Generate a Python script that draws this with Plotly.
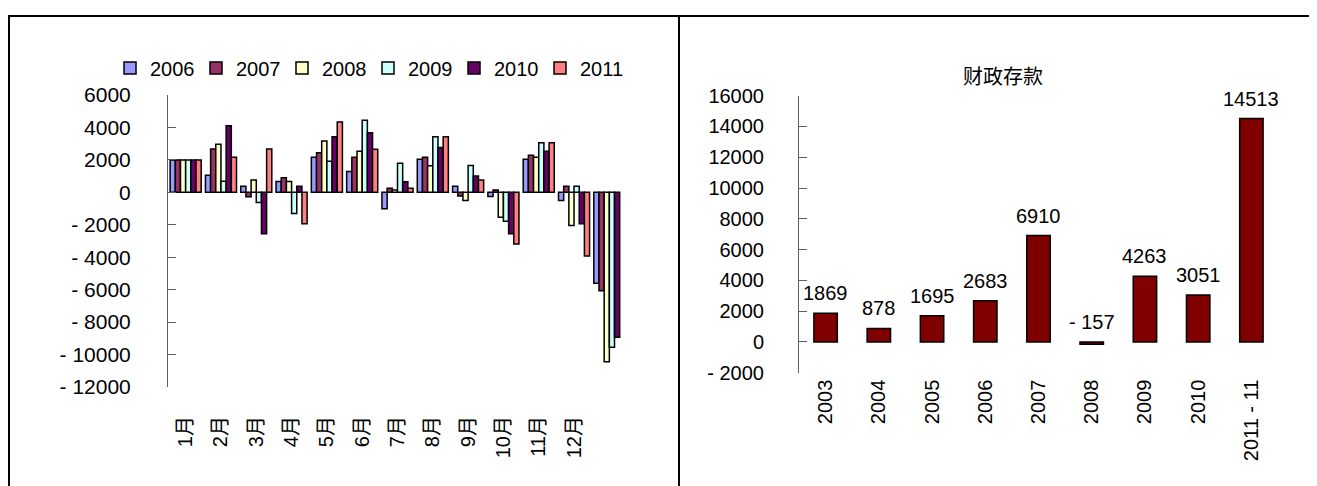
import plotly.graph_objects as go

# the page places the figure 8px from the window's top-left corner
OFF = 8
W, H = 1317 - OFF, 486 - OFF

# ---------------- data ----------------
month_labels = ["1月", "2月", "3月", "4月", "5月", "6月", "7月", "8月", "9月", "10月", "11月", "12月", ""]
years = ["2006", "2007", "2008", "2009", "2010", "2011"]
v2006 = [2000, 1050, 380, 670, 2160, 1280, -1010, 2040, 380, -250, 2040, -500, -5600]
v2007 = [2000, 2670, -270, 900, 2440, 2160, 250, 2160, -230, 150, 2290, 380, -6070]
v2008 = [2000, 2960, 760, 670, 3170, 2540, 150, 1640, -500, -1530, 2160, -2040, -10450]
v2009 = [2000, 690, -630, -1300, 1910, 4450, 1790, 3420, 1660, -1790, 3050, 380, -9550]
v2010 = [2000, 4100, -2560, 380, 3420, 3680, 650, 2770, 1010, -2560, 2540, -1930, -8930]
v2011 = [2000, 2160, 2670, -1930, 4330, 2650, 250, 3420, 760, -3190, 3050, -3930, None]
series = [v2006, v2007, v2008, v2009, v2010, v2011]
colors = ["#9999FF", "#993366", "#FFFFCC", "#CCFFFF", "#660066", "#FF8080"]

dep_years = ["2003", "2004", "2005", "2006", "2007", "2008", "2009", "2010", "2011 - 11"]
dep_values = [1869, 878, 1695, 2683, 6910, -157, 4263, 3051, 14513]
dep_title = "财政存款"

FONT = "Liberation Sans, Arial, Noto Sans CJK SC, sans-serif"

def px_x(p):
    return (p - OFF) / W

def px_y(p):
    return 1 - (p - OFF) / H

# left plot area (screen pixels)
L_dom_x = [px_x(168), px_x(627)]
L_dom_y = [px_y(387), px_y(95)]
L_range = [-12000, 6000]
# right plot area
R_dom_x = [px_x(799), px_x(1278)]
R_dom_y = [px_y(372.7), px_y(95.7)]
R_range = [-2000, 16000]

def zero_pos(dom, rng):
    return dom[0] + (0 - rng[0]) / (rng[1] - rng[0]) * (dom[1] - dom[0])

fig = go.Figure()

xs_left = list(range(len(month_labels)))
for yr, vals, col in zip(years, series, colors):
    fig.add_trace(go.Bar(
        x=xs_left, y=vals, name=yr, xaxis="x", yaxis="y",
        marker=dict(color=col, line=dict(color="black", width=1.5)),
    ))

xs_right = list(range(len(dep_years)))
fig.add_trace(go.Bar(
    x=xs_right, y=dep_values, xaxis="x2", yaxis="y2", showlegend=False,
    marker=dict(color="#800000", line=dict(color="black", width=1.5)),
    width=0.44,
))

for xi, v in zip(xs_right, dep_values):
    fig.add_annotation(
        x=xi, y=max(v, 0), xref="x2", yref="y2", text=str(v).replace("-", "- "),
        showarrow=False, yanchor="middle", yshift=20,
        font=dict(family=FONT, size=20, color="black"),
    )

fig.add_annotation(
    x=px_x(1003), y=px_y(77), xref="paper", yref="paper", text=dep_title,
    showarrow=False, xanchor="center", yanchor="middle",
    font=dict(family=FONT, size=20, color="black"),
)

axis_gray = "#606060"

fig.update_layout(
    width=W, height=H,
    margin=dict(l=0, r=0, t=0, b=0, autoexpand=False),
    paper_bgcolor="white", plot_bgcolor="white",
    barmode="group", bargap=0.12, bargroupgap=0,
    font=dict(family=FONT, size=20, color="black"),
    showlegend=True,
    legend=dict(orientation="h", x=px_x(110), y=px_y(68), xanchor="left", yanchor="middle",
                font=dict(family=FONT, size=20, color="black"), bgcolor="rgba(0,0,0,0)",
                entrywidth=41, itemclick=False),
    xaxis=dict(domain=L_dom_x, anchor="y", range=[-0.5, len(month_labels) - 0.5], automargin=False,
               tickmode="array", tickvals=xs_left[:12], ticktext=month_labels[:12],
               tickangle=-90, ticks="", showline=False, showgrid=False, zeroline=False,
               ticklabelstandoff=24, tickfont=dict(family=FONT, size=20)),
    xaxis3=dict(overlaying="x", anchor="free", position=zero_pos(L_dom_y, L_range), automargin=False,
                range=[-0.5, len(month_labels) - 0.5],
                tickmode="array", tickvals=[i - 0.5 for i in range(len(month_labels) + 1)],
                ticks="inside", ticklen=7, tickcolor=axis_gray, showticklabels=False,
                showline=True, linecolor=axis_gray, linewidth=1, showgrid=False, zeroline=False),
    yaxis=dict(domain=L_dom_y, anchor="x", range=L_range, automargin=False,
               ticks="inside", ticklen=8, tickcolor=axis_gray, showline=True, linecolor=axis_gray,
               linewidth=1, showgrid=False, zeroline=False, ticklabelstandoff=32,
               tickfont=dict(family=FONT, size=21)),
    xaxis2=dict(domain=R_dom_x, anchor="y2", range=[-0.5, len(dep_years) - 0.5], automargin=False,
                tickmode="array", tickvals=xs_right, ticktext=dep_years,
                tickangle=-90, ticks="", showline=False, showgrid=False, zeroline=False,
                ticklabelstandoff=2, tickfont=dict(family=FONT, size=20)),
    xaxis4=dict(overlaying="x2", anchor="free", position=zero_pos(R_dom_y, R_range), automargin=False,
                range=[-0.5, len(dep_years) - 0.5],
                tickmode="array", tickvals=[i - 0.5 for i in range(len(dep_years) + 1)],
                ticks="inside", ticklen=7, tickcolor=axis_gray, showticklabels=False,
                showline=True, linecolor="black", linewidth=1, showgrid=False, zeroline=False),
    yaxis2=dict(domain=R_dom_y, anchor="x2", range=R_range, automargin=False,
                ticks="inside", ticklen=8, tickcolor=axis_gray, showline=True, linecolor=axis_gray,
                linewidth=1, showgrid=False, zeroline=False, ticklabelstandoff=30,
                tickfont=dict(family=FONT, size=20)),
)

# tick labels with spaced minus sign, like the reference
for ax in ["yaxis", "yaxis2"]:
    rng = fig.layout[ax].range
    vals = list(range(int(rng[0]), int(rng[1]) + 1, 2000))
    fig.layout[ax].tickmode = "array"
    fig.layout[ax].tickvals = vals
    fig.layout[ax].ticktext = [str(v).replace("-", "- ") for v in vals]

# panel frame lines
frame = dict(color="black", width=2)
fig.add_shape(type="line", xref="paper", yref="paper", x0=0, x1=1, y0=px_y(16), y1=px_y(16), line=frame)
fig.add_shape(type="line", xref="paper", yref="paper", x0=px_x(9), x1=px_x(9), y0=0, y1=px_y(16), line=frame)
fig.add_shape(type="line", xref="paper", yref="paper", x0=px_x(679), x1=px_x(679), y0=0, y1=px_y(16), line=frame)

fig.write_html("out.html")
